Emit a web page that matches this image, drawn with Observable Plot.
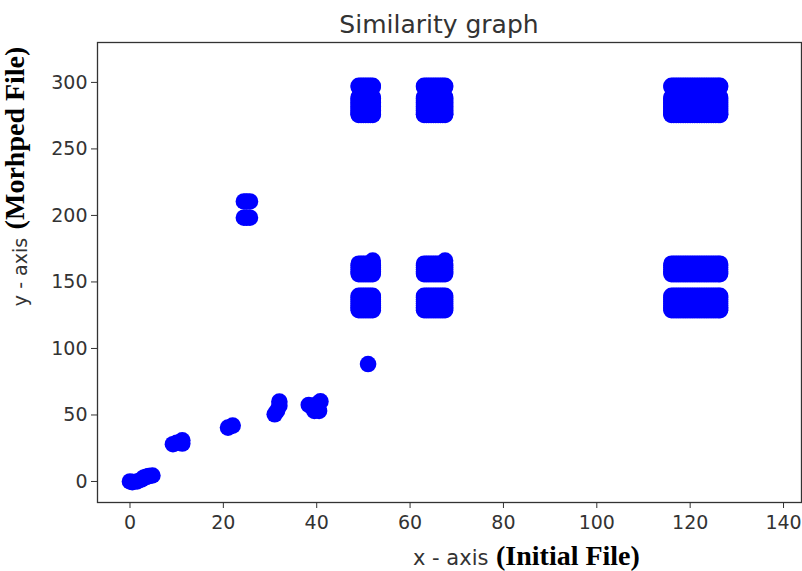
<!DOCTYPE html>
<html><head><meta charset="utf-8">
<script src="https://cdn.jsdelivr.net/npm/d3@7"></script>
<script src="https://cdn.jsdelivr.net/npm/@observablehq/plot@0.6"></script>
<style>body{margin:0;background:#fff}</style>
</head><body><div id="chart"></div>
<script>
const titleText = "Similarity graph";
const xTicks = [0, 20, 40, 60, 80, 100, 120, 140];
const yTicks = [0, 50, 100, 150, 200, 250, 300];

// individual points
const scatterX = [0, 0.5, 1.5, 2.5, 3, 3.5, 4, 4.8, 9.2, 10, 11.2, 11.2, 21, 22, 31, 31.5, 32, 32, 38.3, 39, 39.5, 40.5, 40.8, 40, 51, 52, 67.5];
const scatterY = [0, -0.5, 0, 1.5, 3, 3.5, 4, 4.5, 28, 29, 31, 28.5, 40.5, 42, 50.5, 53, 57, 60, 57.5, 56, 53, 53, 60.2, 58, 88.3, 166, 166];

// dense blocks: x columns and y rows of overlapping points
const colsA = [49, 49.5, 50, 50.5, 51, 51.5, 52];
const colsB = [63, 63.5, 64, 64.5, 65, 65.5, 66, 66.5, 67, 67.5];
const colsC = [116, 116.5, 117, 117.5, 118, 118.5, 119, 119.5, 120, 120.5, 121, 121.5, 122, 122.5, 123, 123.5, 124, 124.5, 125, 125.5, 126, 126.4];
const colsD = [24.4, 25, 25.7];
const rowsTop = [297.4, 296.5, 289, 288, 287, 286, 285, 284, 283, 282, 281, 280, 279, 278, 277, 276, 275.6];
const rowsMidUpper = [163.7, 162.5, 161, 159.5, 158, 157, 155.9];
const rowsMidLower = [139.6, 138.5, 137, 135.5, 134, 132.5, 131, 129.8, 128.8];
const rowsD = [210.5, 198.3];

const blocks = [
  [colsA, rowsTop], [colsB, rowsTop], [colsC, rowsTop],
  [colsA, rowsMidUpper], [colsA, rowsMidLower],
  [colsB, rowsMidUpper], [colsB, rowsMidLower],
  [colsC, rowsMidUpper], [colsC, rowsMidLower],
  [colsD, rowsD]
];

const data = scatterX.map((x, i) => ({x, y: scatterY[i]}));
for (const [cols, rows] of blocks) for (const x of cols) for (const y of rows) data.push({x, y});

const W = 802, H = 571;
const plot = Plot.plot({
  width: W, height: H,
  marginLeft: 97, marginRight: 1, marginTop: 42, marginBottom: 69,
  style: {fontFamily: "DejaVu Sans", fontSize: "19px", color: "#333", background: "#fff"},
  x: {domain: [-6.96, 143.85], label: null},
  y: {domain: [-15.8, 330], label: null},
  marks: [
    Plot.dot(data, {x: "x", y: "y", r: 8.3, fill: "#0000ff", stroke: "none"}),
    Plot.frame({stroke: "#333", strokeWidth: 1.3}),
    Plot.axisX({ticks: xTicks, tickSize: 6, tickPadding: 7, fontSize: 19, stroke: "#333", fill: "#333", label: null}),
    Plot.axisY({ticks: yTicks, tickSize: 6, tickPadding: 4, fontSize: 19, stroke: "#333", fill: "#333", label: null})
  ]
});
document.getElementById("chart").appendChild(plot);

const svg = d3.select(plot);
svg.append("text").attr("x", 439).attr("y", 33).attr("text-anchor", "middle")
  .attr("font-family", "DejaVu Sans").attr("font-size", 25).attr("fill", "#333").text(titleText);
svg.append("text").attr("x", 413).attr("y", 565).attr("text-anchor", "start")
  .attr("font-family", "DejaVu Sans").attr("font-size", 21).attr("fill", "#333").text("x - axis");
svg.append("text").attr("x", 496).attr("y", 565).attr("text-anchor", "start")
  .attr("font-family", "Liberation Serif").attr("font-weight", "bold").attr("font-size", 28).attr("fill", "#000").text("(Initial File)");
svg.append("text").attr("transform", "translate(27,272) rotate(-90)").attr("text-anchor", "middle")
  .attr("font-family", "DejaVu Sans").attr("font-size", 19).attr("fill", "#333").text("y - axis");
svg.append("text").attr("transform", "translate(24,138) rotate(-90)").attr("text-anchor", "middle")
  .attr("font-family", "Liberation Serif").attr("font-weight", "bold").attr("font-size", 28).attr("fill", "#000").text("(Morhped File)");
</script></body></html>
